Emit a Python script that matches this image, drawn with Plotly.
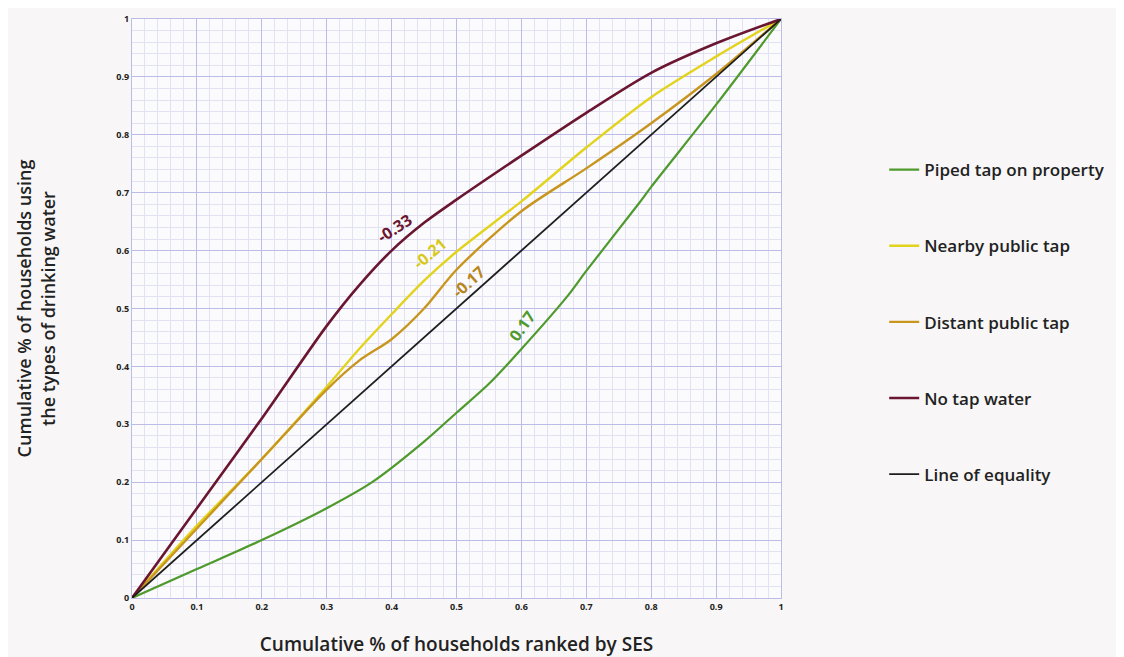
import plotly.graph_objects as go

# Data
x_piped = [0, 0.1, 0.2, 0.3, 0.37, 0.45, 0.5, 0.55, 0.6, 0.67, 0.7, 0.78, 0.8, 0.9, 1.0]
y_piped = [0, 0.05, 0.1, 0.155, 0.2, 0.27, 0.32, 0.37, 0.43, 0.52, 0.565, 0.68, 0.71, 0.852, 1.0]

x_nearby = [0, 0.1, 0.2, 0.3, 0.35, 0.4, 0.45, 0.5, 0.6, 0.7, 0.8, 0.9, 1.0]
y_nearby = [0, 0.125, 0.24, 0.365, 0.43, 0.49, 0.548, 0.598, 0.685, 0.778, 0.865, 0.935, 1.0]

x_distant = [0, 0.1, 0.2, 0.3, 0.35, 0.4, 0.45, 0.5, 0.6, 0.7, 0.8, 0.9, 1.0]
y_distant = [0, 0.12, 0.24, 0.36, 0.41, 0.447, 0.50, 0.567, 0.668, 0.742, 0.82, 0.905, 1.0]

x_notap = [0, 0.1, 0.2, 0.3, 0.35, 0.4, 0.45, 0.5, 0.6, 0.7, 0.8, 0.9, 1.0]
y_notap = [0, 0.155, 0.31, 0.47, 0.54, 0.6, 0.648, 0.688, 0.764, 0.838, 0.907, 0.958, 1.0]

x_equal = [0, 1]
y_equal = [0, 1]

series_names = ["Piped tap on property", "Nearby public tap", "Distant public tap",
                "No tap water", "Line of equality"]
series_colors = ["#4e9a2c", "#e2d31c", "#c8961e", "#6a1630", "#1e1e1e"]

conc_labels = ["-0.33", "-0.21", "-0.17", "0.17"]
conc_x = [0.405, 0.459, 0.518, 0.601]
conc_y = [0.639, 0.596, 0.546, 0.47]
conc_angle = [-33, -40, -42, -55]
conc_colors = ["#6a1630", "#d8c81a", "#b8861a", "#4e9a2c"]

tick_vals = [0, 0.1, 0.2, 0.3, 0.4, 0.5, 0.6, 0.7, 0.8, 0.9, 1.0]
tick_text = ["0", "0.1", "0.2", "0.3", "0.4", "0.5", "0.6", "0.7", "0.8", "0.9", "1"]

xs = [x_piped, x_nearby, x_distant, x_notap, x_equal]
ys = [y_piped, y_nearby, y_distant, y_notap, y_equal]
widths = [2.2, 2.4, 2.4, 2.6, 1.8]

fig = go.Figure()
for i in range(5):
    fig.add_trace(go.Scatter(
        x=xs[i], y=ys[i], mode="lines", name=series_names[i],
        legendgroup=series_names[i],
        line=dict(color=series_colors[i], width=widths[i],
                  shape="spline" if i < 4 else "linear", smoothing=0.8),
    ))

for lab, lx, ly, ang, col in zip(conc_labels, conc_x, conc_y, conc_angle, conc_colors):
    fig.add_annotation(x=lx, y=ly, text=lab, showarrow=False, textangle=ang,
                       font=dict(family="Open Sans", size=16, color=col, weight=700))

grid_major = "#bcbce6"
grid_minor = "#e2e2f2"
axis_common = dict(
    range=[0, 1], tickvals=tick_vals, ticktext=tick_text,
    showgrid=True, gridcolor=grid_major, gridwidth=1.2,
    minor=dict(dtick=0.02, showgrid=True, gridcolor=grid_minor, gridwidth=1, tick0=0),
    showline=True, linecolor=grid_major, mirror=True, zeroline=False,
    tickfont=dict(family="Open Sans", size=9, color="#222222", weight=700),
    ticks="", automargin=False,
)

fig.update_layout(
    width=1116, height=649,
    margin=dict(l=124, r=343, t=11, b=59),
    paper_bgcolor="#f8f6f6", plot_bgcolor="#fbfafc",
    xaxis=dict(**axis_common,
               title=dict(text="Cumulative % of households ranked by SES",
                          font=dict(family="Open Sans", size=19, color="#222222", weight=600),
                          standoff=27)),
    yaxis=dict(**axis_common,
               title=dict(text="Cumulative % of households using<br>the types of drinking water",
                          font=dict(family="Open Sans", size=18, color="#222222", weight=600),
                          standoff=56)),
    legend=dict(x=1.159, y=0.77, xanchor="left", yanchor="top",
                bgcolor="rgba(0,0,0,0)", tracegroupgap=51,
                font=dict(family="Open Sans", size=17, color="#222222", weight=600),
                itemwidth=30),
    showlegend=True,
)

fig.write_html("out.html")
